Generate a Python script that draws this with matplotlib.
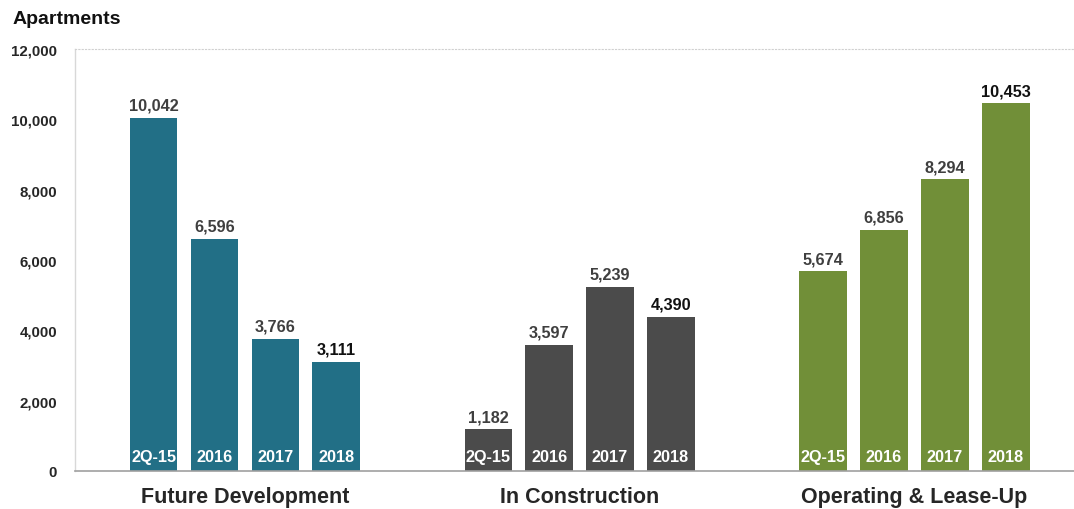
import matplotlib
matplotlib.use("Agg")
import matplotlib.pyplot as plt
import numpy as np

plt.rcParams['font.family'] = ['Liberation Sans', 'DejaVu Sans']

groups = ["Future Development", "In Construction", "Operating & Lease-Up"]
periods = ["2Q-15", "2016", "2017", "2018"]
future_dev = [10042, 6596, 3766, 3111]
in_construction = [1182, 3597, 5239, 4390]
operating = [5674, 6856, 8294, 10453]
series = [future_dev, in_construction, operating]
colors = ["#226F86", "#4B4B4B", "#718F38"]
yticks = [0, 2000, 4000, 6000, 8000, 10000, 12000]

fig = plt.figure(figsize=(10.74, 5.10), dpi=100)
ax = fig.add_axes([75/1074, 38/510, 999/1074, 422/510])

group_gap = 5.5
bar_w = 0.78
for g, (vals, col) in enumerate(zip(series, colors)):
    xs = g * group_gap + np.arange(len(vals))
    ax.bar(xs, vals, width=bar_w, color=col, edgecolor="none")
    for i, (x, v) in enumerate(zip(xs, vals)):
        last = i == len(vals) - 1
        ax.text(x, v + 150, f"{v:,}", ha="center", va="bottom",
                fontsize=11.7, fontweight="bold",
                color="#111111" if last else "#3f3f3f")
        ax.text(x, 190, periods[i], ha="center", va="bottom",
                fontsize=11.7, fontweight="bold", color="white")
    ax.text(g * group_gap + 1.5, -440, groups[g], ha="center", va="top",
            fontsize=15.5, fontweight="bold", color="#262626")

ax.set_xlim(-1.29, 15.12)
ax.set_ylim(0, 12000)
ax.set_yticks(yticks)
ax.set_yticklabels([f"{t:,}" for t in yticks], fontsize=10.8,
                   fontweight="bold", color="#262626")
ax.tick_params(axis="y", length=0, pad=13)
ax.set_xticks([])

ax.spines["right"].set_visible(False)
ax.spines["top"].set_color("#d0d0d0")
ax.spines["top"].set_linestyle((0, (1, 2)))
ax.spines["top"].set_linewidth(0.8)
ax.spines["left"].set_color("#d8d8d8")
ax.spines["left"].set_linewidth(1.0)
ax.spines["bottom"].set_color("#a0a0a0")
ax.spines["bottom"].set_linewidth(1.2)

fig.text(13/1074, 1 - 19/510, "Apartments", ha="left", va="center",
         fontsize=14, fontweight="bold", color="#111111")

fig.savefig("out.png", dpi=100)
